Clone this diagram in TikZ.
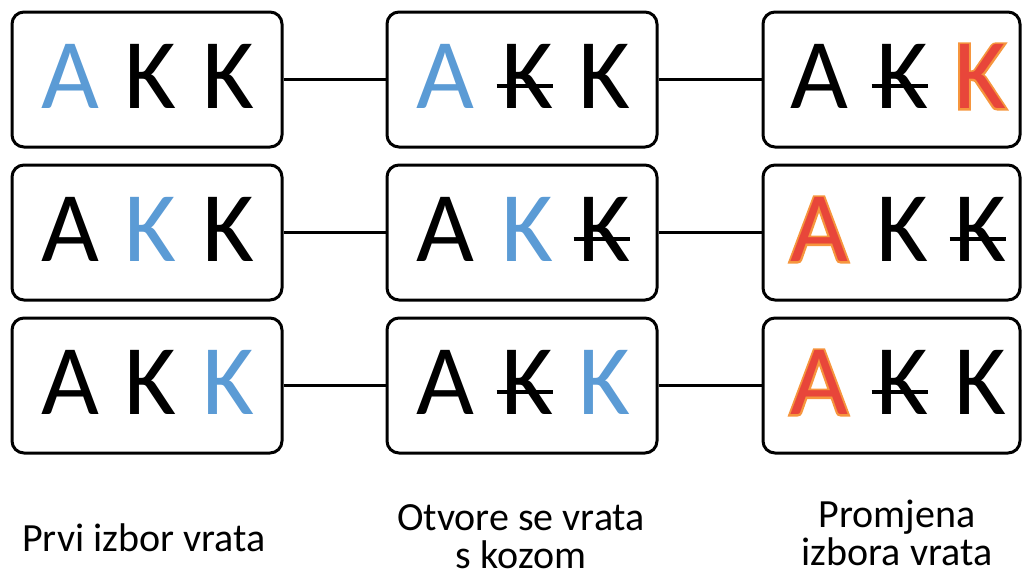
\documentclass[tikz,border=0pt]{standalone}
\usepackage{fontspec}
\setmainfont{Carlito}
\newfontfamily\glowfont[FakeBold=4]{Carlito}
\usetikzlibrary{shapes,positioning,calc}
\definecolor{pickblue}{RGB}{91,155,213}
\definecolor{swapred}{RGB}{232,70,58}
\definecolor{swapglow}{RGB}{246,150,62}

\tikzset{
  door/.style={draw, rounded corners=6pt, line width=1.5pt, minimum width=135pt, minimum height=67.5pt},
  ltr/.style={font=\fontsize{50}{50}\selectfont, inner sep=0pt, anchor=base},
  glow/.style={ltr, text=swapglow, font=\glowfont\fontsize{50}{50}\selectfont},
  link/.style={line width=1.5pt},
  strike/.style={line width=2pt},
  caption/.style={font=\fontsize{20}{19}\selectfont, align=center, inner sep=0pt, anchor=base}
}

\begin{document}
\begin{tikzpicture}[x=0.5pt,y=-0.5pt]
				\useasboundingbox (0,0) rectangle (1022,575);
				
				% Draw the nine boxes
				\node[door] (pick1) at (147,79.5) {};
				\node[door] (pick2) at (147,232.5) {};
				\node[door] (pick3) at (147,385.5) {};
				\node[door] (open1) at (522,79.5) {};
				\node[door] (open2) at (522,232.5) {};
				\node[door] (open3) at (522,385.5) {};
				\node[door, minimum width=128.5pt] (swap1) at (891.5,79.5) {};
				\node[door, minimum width=128.5pt] (swap2) at (891.5,232.5) {};
				\node[door, minimum width=128.5pt] (swap3) at (891.5,385.5) {};
				
				% Draw connections
				\draw[link] (pick1) -- (open1);
				\draw[link] (open1) -- (swap1);
				\draw[link] (pick2) -- (open2);
				\draw[link] (open2) -- (swap2);
				\draw[link] (pick3) -- (open3);
				\draw[link] (open3) -- (swap3);
				
				% First choice
				\node[ltr, text=pickblue] (pick1-a) at (70,108.5) {A};
				\node[ltr] (pick1-b) at (150,108.5) {K};
				\node[ltr] (pick1-c) at (228,108.5) {K};
				\node[ltr] (pick2-a) at (70,261.5) {A};
				\node[ltr, text=pickblue] (pick2-b) at (150,261.5) {K};
				\node[ltr] (pick2-c) at (228,261.5) {K};
				\node[ltr] (pick3-a) at (70,414.5) {A};
				\node[ltr] (pick3-b) at (150,414.5) {K};
				\node[ltr, text=pickblue] (pick3-c) at (228,414.5) {K};
				
				% Door with a goat is opened
				\node[ltr, text=pickblue] (open1-a) at (445,108.5) {A};
				\node[ltr] (open1-b) at (527,108.5) {K};
				\node[ltr] (open1-c) at (604,108.5) {K};
				\node[ltr] (open2-a) at (445,261.5) {A};
				\node[ltr, text=pickblue] (open2-b) at (527,261.5) {K};
				\node[ltr] (open2-c) at (604,261.5) {K};
				\node[ltr] (open3-a) at (445,414.5) {A};
				\node[ltr] (open3-b) at (527,414.5) {K};
				\node[ltr, text=pickblue] (open3-c) at (604,414.5) {K};
				\draw[strike] ([xshift=-2pt,yshift=11.5pt]open1-b.base west) -- ([yshift=11.5pt]open1-b.base east);
				\draw[strike] ([xshift=-2pt,yshift=11.5pt]open2-c.base west) -- ([yshift=11.5pt]open2-c.base east);
				\draw[strike] ([xshift=-2pt,yshift=11.5pt]open3-b.base west) -- ([yshift=11.5pt]open3-b.base east);
				
				% Switched choice (glow drawn under the red letter)
				\node[ltr] (swap1-a) at (819,108.5) {A};
				\node[ltr] (swap1-b) at (902,108.5) {K};
				\node[glow] (swap1-g) at (980,108.5) {K};
				\node[ltr, text=swapred] (swap1-c) at (980,108.5) {K};
				\node[glow] (swap2-g) at (819,261.5) {A};
				\node[ltr, text=swapred] (swap2-a) at (819,261.5) {A};
				\node[ltr] (swap2-b) at (902,261.5) {K};
				\node[ltr] (swap2-c) at (980,261.5) {K};
				\node[glow] (swap3-g) at (819,414.5) {A};
				\node[ltr, text=swapred] (swap3-a) at (819,414.5) {A};
				\node[ltr] (swap3-b) at (902,414.5) {K};
				\node[ltr] (swap3-c) at (980,414.5) {K};
				\draw[strike] ([xshift=-2pt,yshift=11.5pt]swap1-b.base west) -- ([yshift=11.5pt]swap1-b.base east);
				\draw[strike] ([xshift=-2pt,yshift=11.5pt]swap2-c.base west) -- ([yshift=11.5pt]swap2-c.base east);
				\draw[strike] ([xshift=-2pt,yshift=11.5pt]swap3-b.base west) -- ([yshift=11.5pt]swap3-b.base east);
				
				% Column captions
				\node[caption] (cap1) at (144,551) {Prvi izbor vrata};
				\node[caption] (cap2) at (521,568) {Otvore se vrata\\s kozom};
				\node[caption] (cap3) at (897,565) {Promjena\\izbora vrata};
			\end{tikzpicture}
\end{document}
